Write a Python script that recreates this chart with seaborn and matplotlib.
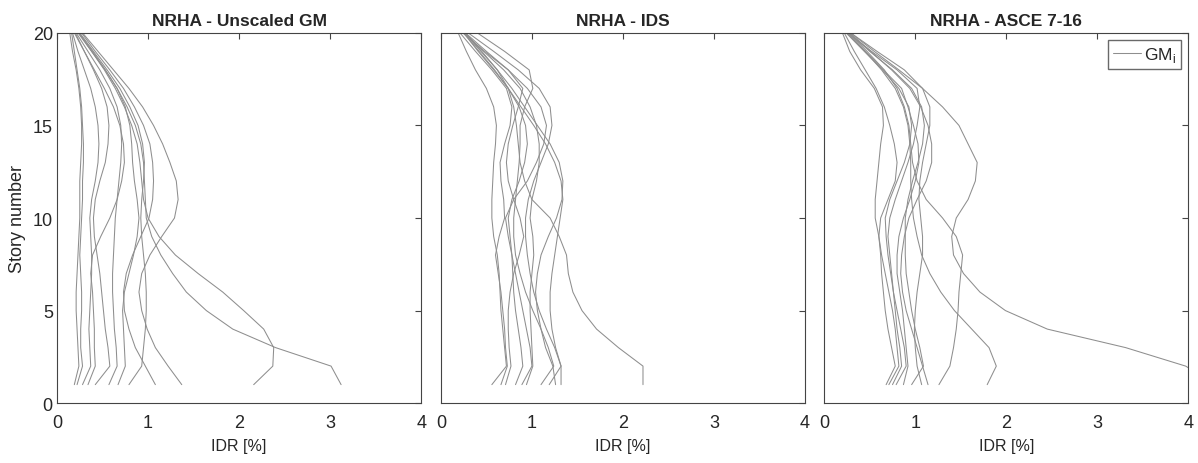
import numpy as np
import pandas as pd
import matplotlib
matplotlib.use("Agg")
import matplotlib.pyplot as plt
import seaborn as sns
from matplotlib.lines import Line2D

# --- data: IDR [%] per story (1..20) for each ground motion ---
stories = list(range(1, 21))

unscaled = [
    [0.19, 0.24, 0.23, 0.22, 0.21, 0.21, 0.22, 0.23, 0.24, 0.25, 0.25, 0.25, 0.26, 0.27, 0.27, 0.26, 0.24, 0.21, 0.17, 0.14],
    [0.22, 0.28, 0.26, 0.26, 0.27, 0.27, 0.26, 0.25, 0.26, 0.27, 0.28, 0.28, 0.29, 0.29, 0.28, 0.27, 0.25, 0.22, 0.19, 0.16],
    [0.28, 0.37, 0.36, 0.35, 0.36, 0.37, 0.38, 0.38, 0.37, 0.36, 0.38, 0.42, 0.45, 0.46, 0.45, 0.42, 0.37, 0.30, 0.23, 0.17],
    [0.34, 0.42, 0.41, 0.41, 0.40, 0.39, 0.37, 0.39, 0.48, 0.58, 0.66, 0.71, 0.74, 0.73, 0.69, 0.62, 0.52, 0.41, 0.30, 0.19],
    [0.42, 0.58, 0.56, 0.53, 0.51, 0.49, 0.47, 0.44, 0.41, 0.40, 0.42, 0.47, 0.53, 0.56, 0.57, 0.55, 0.49, 0.40, 0.30, 0.20],
    [0.57, 0.66, 0.65, 0.63, 0.62, 0.61, 0.61, 0.62, 0.63, 0.64, 0.66, 0.68, 0.70, 0.71, 0.70, 0.66, 0.58, 0.47, 0.34, 0.21],
    [0.67, 0.75, 0.74, 0.73, 0.72, 0.74, 0.79, 0.84, 0.88, 0.90, 0.88, 0.85, 0.83, 0.82, 0.80, 0.75, 0.66, 0.53, 0.38, 0.23],
    [0.79, 0.93, 0.95, 0.97, 0.98, 0.98, 0.97, 0.95, 0.93, 0.92, 0.93, 0.95, 0.96, 0.94, 0.89, 0.80, 0.69, 0.55, 0.40, 0.25],
    [1.08, 0.97, 0.86, 0.79, 0.74, 0.73, 0.76, 0.83, 0.92, 1.01, 1.05, 1.06, 1.05, 1.02, 0.95, 0.85, 0.73, 0.58, 0.42, 0.27],
    [1.37, 1.22, 1.08, 0.99, 0.93, 0.90, 0.93, 1.02, 1.15, 1.29, 1.33, 1.31, 1.24, 1.16, 1.06, 0.94, 0.79, 0.62, 0.45, 0.28],
    [2.16, 2.37, 2.38, 2.27, 2.05, 1.82, 1.55, 1.30, 1.12, 1.00, 0.95, 0.93, 0.91, 0.88, 0.82, 0.74, 0.64, 0.52, 0.38, 0.24],
    [3.12, 3.01, 2.40, 1.93, 1.64, 1.42, 1.27, 1.14, 1.04, 0.98, 0.97, 0.96, 0.95, 0.92, 0.86, 0.77, 0.66, 0.53, 0.39, 0.24],
]

ids = [
    [0.56, 0.72, 0.70, 0.68, 0.66, 0.65, 0.64, 0.62, 0.58, 0.56, 0.56, 0.57, 0.58, 0.60, 0.61, 0.58, 0.50, 0.38, 0.28, 0.19],
    [0.66, 0.73, 0.71, 0.70, 0.68, 0.66, 0.63, 0.60, 0.64, 0.70, 0.69, 0.66, 0.65, 0.70, 0.76, 0.78, 0.72, 0.56, 0.38, 0.21],
    [0.71, 0.77, 0.75, 0.74, 0.74, 0.76, 0.80, 0.86, 0.91, 0.87, 0.80, 0.74, 0.72, 0.74, 0.79, 0.85, 0.90, 0.74, 0.48, 0.24],
    [0.82, 0.90, 0.88, 0.85, 0.82, 0.80, 0.79, 0.78, 0.76, 0.74, 0.78, 0.86, 0.92, 0.95, 0.93, 0.86, 0.74, 0.58, 0.41, 0.25],
    [0.89, 1.00, 0.98, 0.94, 0.90, 0.86, 0.82, 0.78, 0.74, 0.71, 0.80, 0.95, 1.05, 1.13, 1.16, 1.10, 0.95, 0.74, 0.50, 0.27],
    [0.94, 1.01, 1.00, 0.99, 0.98, 0.98, 1.00, 1.02, 1.01, 0.98, 1.00, 1.05, 1.08, 1.08, 1.05, 0.98, 0.87, 0.69, 0.47, 0.26],
    [1.10, 1.24, 1.18, 1.10, 1.01, 0.93, 0.87, 0.82, 0.80, 0.80, 0.82, 0.84, 0.86, 0.87, 0.87, 0.92, 1.01, 0.97, 0.70, 0.40],
    [1.19, 1.32, 1.25, 1.16, 1.08, 1.02, 0.98, 0.95, 0.93, 0.93, 0.96, 1.02, 1.10, 1.18, 1.22, 1.20, 1.08, 0.85, 0.58, 0.30],
    [1.26, 1.23, 1.15, 1.10, 1.06, 1.04, 1.06, 1.10, 1.18, 1.27, 1.33, 1.34, 1.30, 1.20, 1.06, 0.92, 0.78, 0.62, 0.44, 0.26],
    [1.32, 1.32, 1.26, 1.22, 1.20, 1.20, 1.22, 1.25, 1.28, 1.31, 1.34, 1.32, 1.25, 1.15, 1.02, 0.88, 0.74, 0.59, 0.42, 0.25],
    [2.22, 2.22, 1.95, 1.71, 1.55, 1.45, 1.40, 1.38, 1.30, 1.20, 1.00, 0.92, 0.87, 0.85, 0.83, 0.80, 0.74, 0.62, 0.45, 0.26],
]

asce = [
    [0.68, 0.78, 0.74, 0.70, 0.67, 0.65, 0.63, 0.62, 0.60, 0.56, 0.56, 0.58, 0.60, 0.62, 0.65, 0.64, 0.55, 0.40, 0.28, 0.20],
    [0.71, 0.82, 0.80, 0.78, 0.75, 0.71, 0.67, 0.63, 0.60, 0.62, 0.70, 0.78, 0.80, 0.77, 0.72, 0.66, 0.57, 0.45, 0.33, 0.22],
    [0.79, 0.90, 0.88, 0.84, 0.80, 0.76, 0.73, 0.70, 0.68, 0.67, 0.72, 0.80, 0.88, 0.94, 0.96, 0.93, 0.82, 0.64, 0.44, 0.24],
    [0.87, 0.92, 0.90, 0.88, 0.86, 0.83, 0.80, 0.80, 0.82, 0.87, 0.94, 1.00, 1.04, 1.03, 0.98, 0.92, 0.85, 0.65, 0.45, 0.25],
    [0.96, 1.09, 1.05, 1.00, 0.96, 0.93, 0.90, 0.89, 0.89, 0.89, 0.92, 0.97, 1.03, 1.08, 1.10, 1.07, 0.96, 0.75, 0.50, 0.27],
    [1.07, 1.02, 1.00, 0.99, 1.00, 1.02, 1.05, 1.08, 1.08, 1.06, 1.04, 1.05, 1.08, 1.12, 1.16, 1.16, 1.08, 0.88, 0.58, 0.29],
    [1.14, 1.08, 1.02, 0.96, 0.90, 0.86, 0.84, 0.85, 0.88, 0.93, 1.02, 1.12, 1.18, 1.18, 1.14, 1.06, 0.94, 0.74, 0.51, 0.28],
    [1.26, 1.38, 1.42, 1.45, 1.47, 1.48, 1.50, 1.52, 1.45, 1.30, 1.12, 1.02, 0.97, 0.95, 0.93, 0.88, 0.80, 0.66, 0.47, 0.27],
    [1.79, 1.89, 1.81, 1.62, 1.43, 1.28, 1.16, 1.07, 1.02, 0.98, 0.96, 0.95, 0.95, 0.94, 0.92, 0.87, 0.78, 0.63, 0.45, 0.26],
    [4.30, 3.97, 3.31, 2.45, 1.99, 1.71, 1.53, 1.42, 1.40, 1.45, 1.58, 1.66, 1.68, 1.58, 1.48, 1.30, 1.08, 0.82, 0.55, 0.29],
    [0.75, 0.85, 0.83, 0.80, 0.78, 0.76, 0.74, 0.72, 0.70, 0.72, 0.78, 0.85, 0.92, 0.98, 1.02, 1.05, 1.02, 0.80, 0.52, 0.26],
]

titles = ["NRHA - Unscaled GM", "NRHA - IDS", "NRHA - ASCE 7-16"]
panels = [unscaled, ids, asce]


def to_long(lines):
    rows = []
    for k, vals in enumerate(lines):
        for s, v in zip(stories, vals):
            rows.append({"gm": k, "story": s, "idr": v})
    return pd.DataFrame(rows)


sns.set_style("white")
plt.rcParams["font.family"] = ["Liberation Sans", "DejaVu Sans"]

fig = plt.figure(figsize=(11.98, 4.64), dpi=100)
lefts = [0.0476, 0.368, 0.688]
width = 0.304
bottom, height = 0.129, 0.798

line_col = "#8e8e8e"
for i, (lines, title) in enumerate(zip(panels, titles)):
    ax = fig.add_axes([lefts[i], bottom, width, height])
    df = to_long(lines)
    sns.lineplot(data=df, x="idr", y="story", units="gm", estimator=None,
                 orient="y", sort=True, color=line_col, lw=0.75, ax=ax,
                 legend=False)
    ax.set_xlim(0, 4)
    ax.set_ylim(0, 20)
    ax.set_xticks([0, 1, 2, 3, 4])
    ax.set_yticks([0, 5, 10, 15, 20])
    ax.tick_params(direction="in", top=True, right=True, length=4,
                   width=0.8, color="#444444", labelsize=13)
    ax.tick_params(axis="x", pad=8)
    ax.tick_params(axis="y", pad=3)
    for sp in ax.spines.values():
        sp.set_color("#444444")
        sp.set_linewidth(0.8)
    ax.set_title(title, fontsize=12.5, fontweight="bold", pad=6)
    ax.set_xlabel("IDR [%]", fontsize=11.5, labelpad=5)
    if i == 0:
        ax.set_ylabel("Story number", fontsize=13, labelpad=5)
    else:
        ax.set_ylabel("")
        ax.set_yticklabels([])
    if i == 2:
        h = Line2D([0], [0], color=line_col, lw=0.75)
        ax.legend([h], [r"GM$_\mathregular{i}$"], loc="upper right",
                  fontsize=12.5, frameon=True, fancybox=False,
                  edgecolor="#444444", handlelength=1.6, handletextpad=0.2,
                  borderpad=0.3, borderaxespad=0.4)

fig.savefig("out.png", dpi=100)
